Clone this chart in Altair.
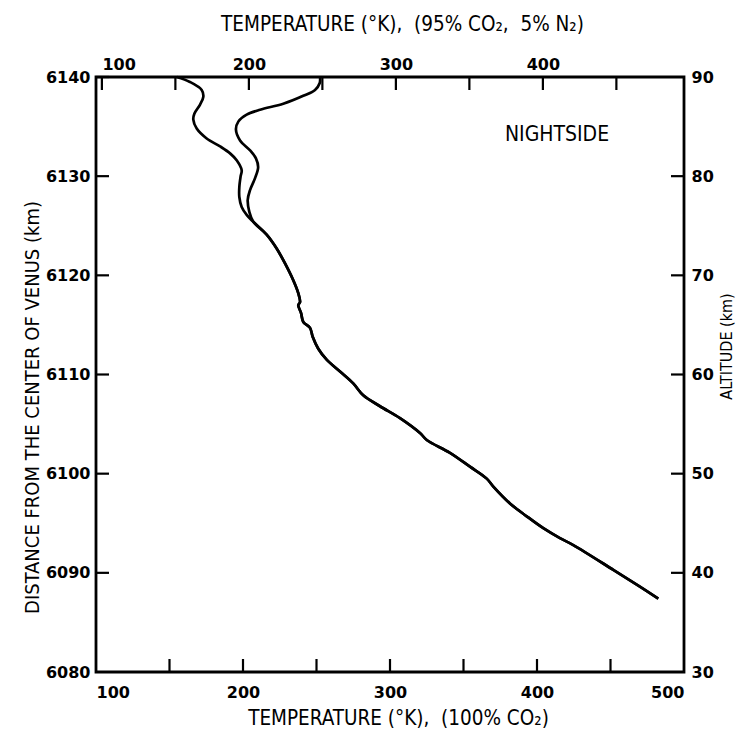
import altair as alt
import pandas as pd

# ---- data ----
# upper branch, 100% CO2 (bottom temperature axis)
upper_a_temp = [154.9, 163.9, 171.9, 173.0, 170.7, 166.9, 166.2, 168.5, 175.3, 184.4,
                191.2, 195.7, 199.1, 198.4, 197.5, 197.5, 199.1, 202.5]
upper_a_dist = [6140.0, 6139.5, 6138.7, 6138.0, 6137.2, 6136.3, 6135.7, 6134.8, 6133.8, 6133.0,
                6132.3, 6131.6, 6130.6, 6130.0, 6128.9, 6127.9, 6126.9, 6126.1]
# upper branch, 95% CO2 / 5% N2
upper_b_temp = [252.4, 252.2, 249.0, 241.0, 227.4, 211.6, 202.5, 196.8, 195.2, 198.0,
                204.8, 208.8, 210.3, 208.2, 204.8, 203.2, 204.3]
upper_b_dist = [6140.0, 6139.4, 6138.7, 6138.1, 6137.3, 6136.7, 6136.2, 6135.5, 6134.7, 6133.6,
                6132.6, 6131.8, 6130.9, 6129.8, 6128.6, 6127.6, 6126.4]
# common lower part
lower_temp = [207.0, 216.1, 222.9, 228.6, 234.2, 237.6, 238.8, 237.6, 239.5, 241.0,
              245.6, 247.4, 251.2, 256.9, 266.0, 275.0, 281.8, 293.2, 306.8, 320.4,
              325.0, 340.8, 354.4, 365.8, 370.3, 381.6, 393.0, 404.3, 415.6, 424.7,
              451.9, 470.0, 482.5]
lower_dist = [6125.4, 6124.1, 6122.7, 6121.2, 6119.5, 6118.2, 6117.3, 6117.0, 6116.2, 6115.3,
              6114.7, 6113.8, 6112.6, 6111.5, 6110.3, 6109.1, 6107.9, 6106.8, 6105.6, 6104.1,
              6103.4, 6102.1, 6100.7, 6099.5, 6098.7, 6097.0, 6095.7, 6094.5, 6093.5, 6092.8,
              6090.3, 6088.6, 6087.4]

bottom_labels = [100, 200, 300, 400, 500]
bottom_ticks = [150, 200, 250, 300, 350, 400, 450]
top_labels = [100, 200, 300, 400]
top_ticks = [100, 150, 200, 250, 300, 350, 400, 450]
left_labels = [6080, 6090, 6100, 6110, 6120, 6130, 6140]
left_ticks = [6090, 6100, 6110, 6120, 6130, 6140]
right_labels = [30, 40, 50, 60, 70, 80, 90]
right_ticks = [40, 50, 60, 70, 80]

note_text = ["NIGHTSIDE"]
note_temp = [413.6]
note_dist = [6134.2]

# ---- tables ----
rows = []
for name, ts, ds in [("A", upper_a_temp + lower_temp, upper_a_dist + lower_dist),
                     ("B", upper_b_temp + lower_temp, upper_b_dist + lower_dist)]:
    for i, (t, d) in enumerate(zip(ts, ds)):
        rows.append({"series": name, "order": i, "temp": t, "dist": d})
curves = pd.DataFrame(rows)

W, H = 588, 595
TL = 13
TITLE_FONT = "DejaVu Sans Condensed, Liberation Sans Narrow, DejaVu Sans"
LABEL_FONT = "DejaVu Sans"
GAP = "\u00a0\u00a0"

xs = alt.Scale(domain=[100, 500], nice=False, zero=False)
ys = alt.Scale(domain=[6080, 6140], nice=False, zero=False)
xs_top = alt.Scale(domain=[96, 496], nice=False, zero=False)
ys_right = alt.Scale(domain=[30, 90], nice=False, zero=False)

common_axis = dict(grid=False, ticks=False, domain=False, labelFont=LABEL_FONT,
                   labelFontSize=16, labelFontWeight="bold", labelColor="black",
                   titleFont=TITLE_FONT, titleFontWeight="normal",
                   titleColor="black")

lines = alt.Chart(curves).mark_line(color="black", strokeWidth=2.7,
                                    interpolate="catmull-rom").encode(
    x=alt.X("temp:Q", scale=xs,
            axis=alt.Axis(orient="bottom", values=bottom_labels, format="d",
                          title="TEMPERATURE (°K)," + GAP + "(100% CO₂)", labelPadding=12,
                          titleFontSize=20.5,
                          titleX=302, titleY=52, titleBaseline="alphabetic",
                          titleAlign="center", **common_axis)),
    y=alt.Y("dist:Q", scale=ys,
            axis=alt.Axis(orient="left", values=left_labels, format="d",
                          title="DISTANCE FROM THE CENTER OF VENUS (km)", labelPadding=6,
                          titleFontSize=20,
                          titleX=-64, titleY=330, titleAngle=270, titleAlign="center",
                          titleBaseline="middle", **common_axis)),
    detail="series:N",
    order="order:Q",
)

bt = alt.Chart(pd.DataFrame({"t": bottom_ticks})).mark_rule(
    color="black", strokeWidth=2.2).encode(
    x=alt.X("t:Q", scale=xs, axis=None),
    y=alt.value(H), y2=alt.value(H - TL))

lt = alt.Chart(pd.DataFrame({"d": left_ticks})).mark_rule(
    color="black", strokeWidth=2.2).encode(
    y=alt.Y("d:Q", scale=ys, axis=None),
    x=alt.value(0), x2=alt.value(TL))

tt = alt.Chart(pd.DataFrame({"t": top_ticks})).mark_rule(
    color="black", strokeWidth=2.2).encode(
    x=alt.X("t:Q", scale=xs_top,
            axis=alt.Axis(orient="top", values=top_labels, format="d",
                          title="TEMPERATURE (°K)," + GAP + "(95% CO₂," + GAP + "5% N₂)",
                          labelPadding=5, titleFontSize=20.5,
                          labelAlign={"condition": {"test": "datum.value == 100", "value": "left"},
                                      "value": "center"},
                          titleX=306, titleY=-47, titleBaseline="alphabetic",
                          titleAlign="center", **common_axis)),
    y=alt.value(0), y2=alt.value(TL))

rt = alt.Chart(pd.DataFrame({"a": right_ticks})).mark_rule(
    color="black", strokeWidth=2.2).encode(
    y=alt.Y("a:Q", scale=ys_right,
            axis=alt.Axis(orient="right", values=right_labels, format="d",
                          title="ALTITUDE (km)", labelPadding=7, titleFontSize=16,
                          titleX=42, titleY=269, titleAngle=270, titleAlign="center",
                          titleBaseline="middle", **common_axis)),
    x=alt.value(W), x2=alt.value(W - TL))

note = alt.Chart(pd.DataFrame({"t": note_temp, "d": note_dist, "s": note_text})).mark_text(
    font=TITLE_FONT, fontSize=21, color="black", align="center", baseline="middle").encode(
    x=alt.X("t:Q", scale=xs, axis=None),
    y=alt.Y("d:Q", scale=ys, axis=None),
    text="s:N")

chart = alt.layer(lines, bt, lt, tt, rt, note).resolve_scale(
    x="independent", y="independent"
).properties(
    width=W, height=H,
    autosize=alt.AutoSizeParams(type="none"),
    padding={"left": 88, "top": 69, "right": 52, "bottom": 61},
    background="white",
).configure_view(stroke="black", strokeWidth=2.8)

chart.save("out.html", embed_options={"renderer": "svg", "actions": False})
